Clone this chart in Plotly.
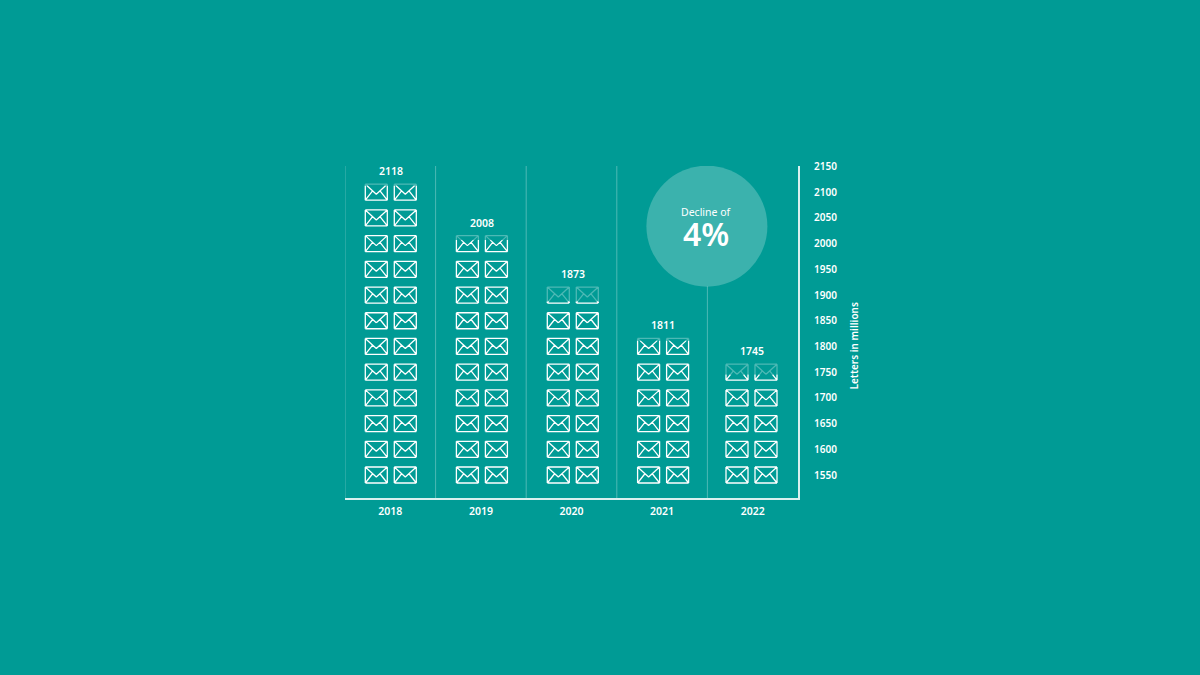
import plotly.graph_objects as go

# --- DATA ---
years = ["2018", "2019", "2020", "2021", "2022"]
letters = [2118, 2008, 1873, 1811, 1745]
rows_per_year = [12, 10, 8, 6, 5]
top_fill = [0.9, 0.72, 0.1, 0.85, 0.35]  # lit share of the top envelope in each column
axis_ticks = [1550, 1600, 1650, 1700, 1750, 1800, 1850, 1900, 1950, 2000, 2050, 2100, 2150]

# --- STYLE ---
BG = "#009B95"
WHITE = "#FFFFFF"
AXIS = "rgba(255,255,255,0.85)"
FAINT = "rgba(255,255,255,0.3)"
FONT = "Noto Sans"
COL_SHIFT = [0.5, 1, 1.3, 1, -1.2]

# envelope outline in pixels around its centre, y up
W, H = 11, 8
SEGMENTS = [
    ((-W, -H), (W, -H)), ((W, -H), (W, H)), ((W, H), (-W, H)), ((-W, H), (-W, -H)),
    ((-W, H), (0, -2)), ((0, -2), (W, H)),
    ((-W, -H), (-3.5, 1.5)), ((W, -H), (3.5, 1.5)),
]


def clip_path(dx, low, high):
    # keep the parts of the outline that fall between two heights
    path = ""
    for (x0, y0), (x1, y1) in SEGMENTS:
        if y0 == y1:
            if low <= y0 <= high:
                path += f"M{x0 + dx},{y0} L{x1 + dx},{y1} "
            continue
        t0 = max(0, min((low - y0) / (y1 - y0), (high - y0) / (y1 - y0)))
        t1 = min(1, max((low - y0) / (y1 - y0), (high - y0) / (y1 - y0)))
        if t1 <= t0:
            continue
        ax, ay = x0 + t0 * (x1 - x0), y0 + t0 * (y1 - y0)
        bx, by = x0 + t1 * (x1 - x0), y0 + t1 * (y1 - y0)
        path += f"M{ax + dx:.2f},{ay:.2f} L{bx + dx:.2f},{by:.2f} "
    return path


def envelope(col, value, dx, low, high, color):
    return dict(
        type="path", xref="x", yref="y", xsizemode="pixel", ysizemode="pixel",
        xanchor=col, yanchor=value, path=clip_path(dx, low, high),
        line=dict(color=color, width=1.3), layer="above",
    )


fig = go.Figure()
# invisible trace so the category axis and value axis exist
fig.add_trace(go.Scatter(x=list(range(len(years))), y=letters, mode="markers",
                         marker=dict(opacity=0), hoverinfo="skip", showlegend=False))

shapes = []
annotations = []

# column separators
for i in range(len(years)):
    if i == 3:
        # this one stops at the bubble
        shapes.append(dict(type="line", xref="x", yref="y", x0=i + 0.5, x1=i + 0.5, y0=1505.3, y1=1917,
                           line=dict(color=FAINT, width=1)))
    elif i < 4:
        shapes.append(dict(type="line", xref="x", yref="paper", x0=i + 0.5, x1=i + 0.5, y0=0, y1=1,
                           line=dict(color=FAINT, width=1)))
shapes.append(dict(type="line", xref="x", yref="paper", x0=-0.5, x1=-0.5, y0=0, y1=1,
                   line=dict(color=FAINT, width=1)))

# bubble
shapes.append(dict(type="circle", xref="x", yref="y", xsizemode="pixel", ysizemode="pixel",
                   xanchor=3.5, yanchor=2034, x0=-61, x1=60, y0=-60.5, y1=60.5,
                   fillcolor="rgba(255,255,255,0.23)", line=dict(width=0), layer="below"))

# envelopes
for col, rows in enumerate(rows_per_year):
    for r in range(rows):
        value = axis_ticks[r]
        for side in (-14.5, 14.5):
            dx = side + COL_SHIFT[col]
            if r == rows - 1:
                cut = -H + top_fill[col] * 2 * H
                shapes.append(envelope(col, value, dx, -H, cut, WHITE))
                shapes.append(envelope(col, value, dx, cut, H, FAINT))
            else:
                shapes.append(envelope(col, value, dx, -H, H, WHITE))
    annotations.append(dict(x=col, y=axis_ticks[rows - 1], xref="x", yref="y", yshift=21,
                            xshift=COL_SHIFT[col], text=str(letters[col]), showarrow=False,
                            font=dict(family=FONT, size=10.5, color=WHITE, weight=600)))

annotations.append(dict(x=3.5, y=2061, xref="x", yref="y", xshift=-1, text="Decline of", showarrow=False,
                        font=dict(family=FONT, size=10.5, color=WHITE)))
annotations.append(dict(x=3.5, y=2020, xref="x", yref="y", xshift=-1, text="4%", showarrow=False,
                        font=dict(family=FONT, size=32, color=WHITE, weight=600)))
annotations.append(dict(x=1, y=1800, xref="paper", yref="y", xshift=65, text="Letters in millions",
                        textangle=-90, showarrow=False,
                        font=dict(family=FONT, size=10, color=WHITE, weight=600)))

fig.update_layout(
    width=1200, height=675, autosize=False,
    paper_bgcolor=BG, plot_bgcolor=BG,
    margin=dict(l=345, r=402, t=166, b=177, pad=0),
    showlegend=False, shapes=shapes, annotations=annotations,
    font=dict(family=FONT, color=WHITE),
)
fig.update_xaxes(
    range=[-0.5, 4.5], tickvals=list(range(len(years))), ticktext=years,
    showgrid=False, zeroline=False, showline=True, linecolor=AXIS, linewidth=2,
    ticks="", ticklabelstandoff=2, tickfont=dict(family=FONT, size=10.5, color=WHITE, weight=600),
)
fig.update_yaxes(
    range=[1505.3, 2151], side="right", tickvals=axis_ticks, ticktext=[str(t) for t in axis_ticks],
    showgrid=False, zeroline=False, showline=True, linecolor=AXIS, linewidth=2,
    ticks="", ticklabelstandoff=12, tickfont=dict(family=FONT, size=10, color=WHITE, weight=600),
)

fig.write_html("out.html", config=dict(displayModeBar=False),
               post_script="document.body.style.margin='0';")
